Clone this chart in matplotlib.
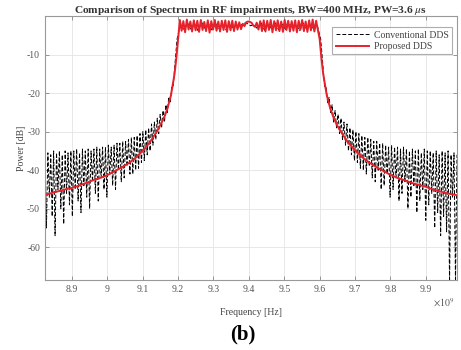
import numpy as np
import matplotlib
matplotlib.use("Agg")
import matplotlib.pyplot as plt
from matplotlib.ticker import FuncFormatter

plt.rcParams["font.family"] = ["Liberation Serif", "DejaVu Serif"]
plt.rcParams["mathtext.fontset"] = "stix"
plt.rcParams["axes.unicode_minus"] = False

# frequencies in GHz, power in dB
# conventional DDS: alternating peak / notch values along each skirt
conv_left_f = np.linspace(8.824, 9.19, 91)
conv_left_peaks = [-36, -35.5, -36, -35, -35.5, -35, -36, -35, -35.5, -35,
                   -35, -34.5, -35.5, -34.5, -35, -34.5, -35, -34.5, -34, -34.5,
                   -34, -34, -33.5, -34, -33.5, -33, -33, -32.5, -32.5, -32,
                   -31.5, -31.5, -31, -30.5, -30, -29.5, -29, -28, -27.5, -26.5,
                   -25.5, -24.5, -23, -21, -18.5, -14]
conv_left_notches = [-55, -47, -52, -57, -45, -50, -54, -46, -49, -52,
                     -45, -48, -51, -44, -47, -50, -43, -46, -48, -42,
                     -45, -47, -41, -44, -45, -40, -43, -42, -39, -41,
                     -41, -40, -39.5, -38, -37.5, -36, -35, -33.5, -32, -30.5,
                     -29, -27.5, -25, -22.5, -18.5]

conv_band_f = np.linspace(9.197, 9.603, 42)
conv_band_p = [-6, -2.2, -3.6, -1.8, -3.4, -2.1, -3.8, -1.6, -3.2, -2.0,
               -3.7, -1.9, -3.3, -2.2, -3.6, -1.7, -3.1, -2.3, -2.6, -1.8,
               -1.9, -2.5, -2.2, -3.4, -1.8, -3.7, -2.0, -3.3, -1.7, -3.6,
               -2.1, -3.5, -1.9, -3.2, -2.2, -3.8, -1.8, -3.4, -2.0, -3.6,
               -2.4, -6]

conv_right_f = np.linspace(9.61, 9.988, 91)
conv_right_peaks = [-14, -18.5, -21, -23, -24.5, -25.5, -26.5, -27.5, -28, -29,
                    -29.5, -30, -30.5, -31, -31.5, -31.5, -32, -32.5, -32.5, -33,
                    -33, -33.5, -34, -33.5, -34, -34, -34.5, -34, -34.5, -35,
                    -34.5, -35, -34.5, -35.5, -34.5, -35, -35, -35.5, -35, -36,
                    -35, -35.5, -35, -36, -35.5, -36]
conv_right_notches = [-18.5, -22.5, -25, -27.5, -29, -30.5, -32, -33.5, -35, -36,
                      -37.5, -38, -39.5, -40, -41, -39, -42, -43, -40, -45,
                      -44, -41, -47, -45, -42, -48, -46, -43, -50, -47,
                      -44, -51, -48, -45, -53, -49, -46, -55, -51, -57,
                      -52, -56, -69, -47, -69]

# proposed DDS
prop_left_f = [8.824, 8.84, 8.86, 8.88, 8.90, 8.92, 8.94, 8.96, 8.98, 9.00,
               9.02, 9.04, 9.06, 9.08, 9.10, 9.12, 9.14, 9.16, 9.17, 9.18,
               9.19, 9.195, 9.200]
prop_left_p = [-46.5, -46, -45.5, -45, -44.6, -44, -43.3, -42.6, -42, -41.3,
               -40.3, -39.3, -38.2, -36.8, -35, -32.8, -30, -26.5, -24, -20.5,
               -15, -11, -6]

prop_band_f = np.linspace(9.205, 9.595, 80)
prop_band_p = [-1.0, -3.8, -1.3, -4.2, -0.9, -3.5, -1.4, -4.0, -1.1, -3.7,
               -1.2, -4.1, -1.0, -3.6, -1.5, -3.9, -1.1, -4.3, -1.3, -3.5,
               -1.0, -3.8, -1.4, -4.0, -1.2, -3.6, -1.1, -4.1, -1.3, -3.7,
               -1.2, -3.9, -1.4, -3.5, -1.6, -3.4, -2.0, -2.6, -1.6, -1.4,
               -1.5, -1.7, -2.4, -2.8, -1.7, -3.5, -1.3, -3.9, -1.1, -4.0,
               -1.2, -3.6, -1.0, -4.2, -1.3, -3.7, -1.1, -3.9, -1.4, -4.1,
               -1.0, -3.6, -1.2, -4.0, -1.3, -3.8, -1.1, -4.2, -1.2, -3.5,
               -1.0, -3.9, -1.4, -4.1, -1.1, -3.7, -0.9, -4.0, -1.2, -3.6]

prop_right_f = [9.600, 9.605, 9.61, 9.62, 9.63, 9.64, 9.65, 9.66, 9.68, 9.70,
                9.72, 9.74, 9.76, 9.78, 9.80, 9.82, 9.84, 9.86, 9.88, 9.90,
                9.92, 9.94, 9.96, 9.988]
prop_right_p = [-6, -11, -15, -20.5, -24, -26.5, -28.5, -30, -32.8, -34.8,
                -36.6, -38, -39.2, -40.2, -41.2, -42, -42.6, -43.3, -43.8, -44.3,
                -45, -45.5, -46, -46.5]

xticks = [8.9, 9.0, 9.1, 9.2, 9.3, 9.4, 9.5, 9.6, 9.7, 9.8, 9.9]
yticks = [-60, -50, -40, -30, -20, -10]


def interleave(peaks, notches):
    out = []
    for i, p in enumerate(peaks):
        out.append(p)
        if i < len(notches):
            out.append(notches[i])
    return out


conv_f = np.concatenate([conv_left_f, conv_band_f, conv_right_f]) * 1e9
conv_p = np.concatenate([interleave(conv_left_peaks, conv_left_notches), conv_band_p,
                         interleave(conv_right_peaks, conv_right_notches)])
prop_f = np.concatenate([prop_left_f, prop_band_f, prop_right_f]) * 1e9
prop_p = np.concatenate([prop_left_p, prop_band_p, prop_right_p])

fig = plt.figure(figsize=(4.61, 3.5), dpi=100)
ax = fig.add_axes([0.0976, 0.2, 0.8937, 0.754])

ax.plot(conv_f, conv_p, color="black", linestyle="--", linewidth=0.7,
        dashes=(4, 2), label="Conventional DDS")
ax.plot(prop_f, prop_p, color="#e8202a", linewidth=1.4, label="Proposed DDS")

ax.set_xlim(8.824e9, 9.988e9)
ax.set_ylim(-68.5, 0)
ax.set_xticks([t * 1e9 for t in xticks])
ax.set_yticks(yticks)
ax.xaxis.set_major_formatter(FuncFormatter(lambda v, pos: "%g" % round(v / 1e9, 2)))
ax.grid(True, color="#e4e4e4", linewidth=0.6)
ax.set_axisbelow(True)
ax.tick_params(direction="in", length=3, width=0.6, colors="#888888",
               labelcolor="#555555", labelsize=7, top=True, right=True)
for s in ax.spines.values():
    s.set_color("#999999")
    s.set_linewidth(0.8)

ax.set_title("Comparison of Spectrum in RF impairments, BW=400 MHz, PW=3.6 $\\mu$s",
             fontsize=8.2, fontweight="bold", color="#333333", pad=2)
ax.set_xlabel("Frequency [Hz]", fontsize=7, color="#444444", labelpad=10)
ax.set_ylabel("Power [dB]", fontsize=7, color="#444444", labelpad=1)
ax.text(0.968, -0.088, "$\\times10^9$", transform=ax.transAxes, fontsize=7,
        color="#555555", ha="center", va="center")

leg = ax.legend(loc="upper right", fontsize=7, frameon=True, fancybox=False,
                handlelength=3.4, borderpad=0.35, labelspacing=0.25,
                handletextpad=0.5, borderaxespad=0, bbox_to_anchor=(0.988, 0.958))
leg.get_frame().set_edgecolor("#999999")
leg.get_frame().set_linewidth(0.8)
for t in leg.get_texts():
    t.set_color("#444444")

fig.text(0.527, 0.043, "(b)", fontsize=15, fontweight="bold", ha="center", va="center")

fig.savefig("out.png", dpi=100)
